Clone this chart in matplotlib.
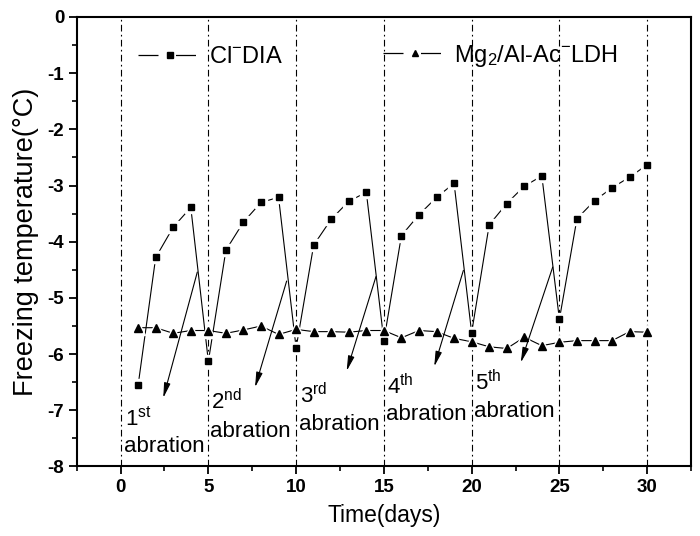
import matplotlib
matplotlib.use("Agg")
import matplotlib.pyplot as plt
from matplotlib.lines import Line2D
from matplotlib.ticker import MultipleLocator

plt.rcParams['font.family'] = ['Liberation Sans', 'DejaVu Sans']
plt.rcParams['mathtext.fontset'] = 'custom'
plt.rcParams['mathtext.rm'] = 'Liberation Sans'
plt.rcParams['mathtext.it'] = 'Liberation Sans'
plt.rcParams['mathtext.bf'] = 'Liberation Sans:bold'
plt.rcParams['axes.unicode_minus'] = False

# ---- data ----
days = list(range(1, 31))
cl_dia = [-6.55, -4.28, -3.74, -3.39, -6.13, -4.15, -3.65, -3.30, -3.21, -5.89,
          -4.06, -3.60, -3.28, -3.12, -5.76, -3.89, -3.52, -3.21, -2.96, -5.62,
          -3.70, -3.32, -3.01, -2.83, -5.38, -3.59, -3.27, -3.04, -2.85, -2.63]
ldh = [-5.53, -5.53, -5.63, -5.58, -5.58, -5.63, -5.57, -5.50, -5.65, -5.56,
       -5.60, -5.60, -5.61, -5.58, -5.58, -5.71, -5.58, -5.60, -5.72, -5.78,
       -5.87, -5.90, -5.70, -5.85, -5.79, -5.76, -5.76, -5.76, -5.60, -5.61]
cycle_lines = [0, 5, 10, 15, 20, 25, 30]
label_num = ['1$^{\\mathrm{st}}$', '2$^{\\mathrm{nd}}$', '3$^{\\mathrm{rd}}$',
             '4$^{\\mathrm{th}}$', '5$^{\\mathrm{th}}$']
label_x = [0.25, 5.15, 10.22, 15.18, 20.2]
label_num_y = [-7.27, -6.98, -6.87, -6.71, -6.64]
label_word_y = [-7.75, -7.47, -7.35, -7.18, -7.12]
arrow_start = [(4.37, -4.54), (9.46, -4.70), (14.55, -4.62), (19.53, -4.51), (24.62, -4.45)]
arrow_end = [(2.43, -6.78), (7.66, -6.59), (12.88, -6.30), (17.87, -6.22), (22.80, -6.15)]
xticks = [0, 5, 10, 15, 20, 25, 30]
yticks = [0, -1, -2, -3, -4, -5, -6, -7, -8]

fig = plt.figure(figsize=(7.0, 5.36), dpi=100)
ax = fig.add_axes([0.1096, 0.1297, 0.8776, 0.8386])

for xv in cycle_lines:
    ax.axvline(xv, color='black', lw=0.8, linestyle=(0, (6, 3, 1.5, 3)), zorder=1)

# squares series
ax.plot(days, cl_dia, color='black', lw=0.8, zorder=3)
ax.plot(days, cl_dia, linestyle='none', marker='s', ms=8.5, mfc='white', mec='white', zorder=4)
ax.plot(days, cl_dia, linestyle='none', marker='s', ms=5, mfc='black', mec='black', zorder=5)

# triangles series
ax.plot(days, ldh, color='black', lw=0.8, zorder=3)
ax.plot(days, ldh, linestyle='none', marker='^', ms=10, mfc='white', mec='white', zorder=4)
ax.plot(days, ldh, linestyle='none', marker='^', ms=6, mfc='black', mec='black', zorder=5)

for (xs, ys), (xe, ye) in zip(arrow_start, arrow_end):
    ax.annotate('', xy=(xe, ye), xytext=(xs, ys),
                arrowprops=dict(arrowstyle='-|>,head_length=0.75,head_width=0.16',
                                color='black', lw=0.8, shrinkA=0, shrinkB=0,
                                mutation_scale=12), zorder=6)

for lab, xl, yn, yw in zip(label_num, label_x, label_num_y, label_word_y):
    ax.text(xl, yn, lab, fontsize=16, ha='left', va='baseline', zorder=7)
    ax.text(xl - 0.05, yw, 'abration', fontsize=16, ha='left', va='baseline', zorder=7)

# legend
h1 = Line2D([], [], color='black', lw=0.9, dashes=(16, 14), marker='s', ms=4,
            mfc='black', mec='black')
h2 = Line2D([], [], color='black', lw=0.9, dashes=(16, 14), marker='^', ms=5,
            mfc='black', mec='black')
leg1 = ax.legend([h1], ['Cl$^{-}$DIA'], loc='center left', bbox_to_anchor=(0.0998, 0.911),
                 frameon=False, fontsize=17, handlelength=2.7, handletextpad=0.3,
                 borderpad=0, borderaxespad=0)
ax.add_artist(leg1)
ax.legend([h2], ['Mg$_{2}$/Al-Ac$^{-}$LDH'], loc='center left', bbox_to_anchor=(0.4986, 0.914),
          frameon=False, fontsize=17, handlelength=2.7, handletextpad=0.3,
          borderpad=0, borderaxespad=0)

ax.set_xlim(-2.5, 32.5)
ax.set_ylim(-8, 0)
ax.set_xticks(xticks)
ax.set_yticks(yticks)
ax.xaxis.set_minor_locator(MultipleLocator(2.5))
ax.yaxis.set_minor_locator(MultipleLocator(0.5))
ax.tick_params(axis='both', which='major', direction='out', length=5.5, width=1.3,
               labelsize=13.5)
ax.tick_params(axis='both', which='minor', direction='out', length=3.5, width=1.2)
ax.tick_params(top=False, right=False, which='both')
for lab in ax.get_xticklabels() + ax.get_yticklabels():
    lab.set_fontweight('bold')
for sp in ax.spines.values():
    sp.set_linewidth(1.5)

ax.set_xlabel('Time(days)', fontsize=16.5, labelpad=6)
ax.set_ylabel('Freezing temperature(\u00b0C)', fontsize=19.5, labelpad=6)

fig.savefig('out.png', dpi=100)
